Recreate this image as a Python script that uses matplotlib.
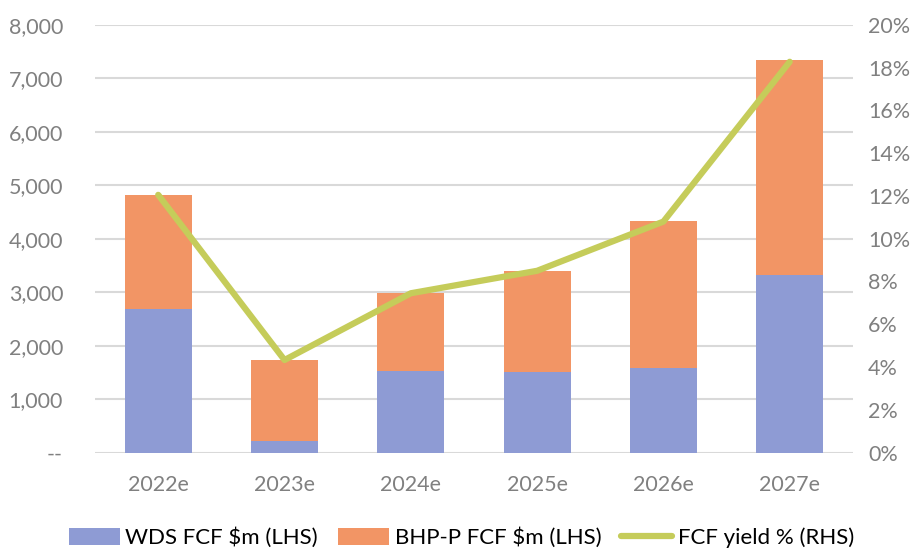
import matplotlib.pyplot as plt
import numpy as np
from matplotlib.ticker import FuncFormatter, MultipleLocator

years = ['2022e', '2023e', '2024e', '2025e', '2026e', '2027e']
wds_fcf = [2680, 225, 1535, 1515, 1590, 3320]
bhp_fcf = [2130, 1510, 1450, 1885, 2750, 4020]
fcf_yield = [12.05, 4.33, 7.45, 8.5, 10.8, 18.27]

plt.rcParams['font.family'] = ['Lato', 'DejaVu Sans']

grey = '#808080'
grid_col = '#d9d9d9'

fig = plt.figure(figsize=(9.23, 5.5), dpi=100)
ax = fig.add_axes([0.103, 0.177, 0.821, 0.778])

x = np.arange(len(years))
ax.bar(x, wds_fcf, width=0.53, color='#8e9bd4', label='WDS FCF $m (LHS)', zorder=2)
ax.bar(x, bhp_fcf, width=0.53, bottom=wds_fcf, color='#f29565',
       label='BHP-P FCF $m (LHS)', zorder=2)

ax.set_xlim(-0.5, len(years) - 0.5)
ax.set_ylim(0, 8000)
ax.yaxis.set_major_locator(MultipleLocator(1000))
ax.yaxis.set_major_formatter(FuncFormatter(lambda v, p: '--' if v == 0 else f'{v:,.0f}'))
ax.grid(axis='y', color=grid_col, linewidth=1.5, zorder=0)
ax.set_axisbelow(True)
ax.set_xticks(x)
ax.set_xticklabels(years)
ax.tick_params(axis='y', length=0, pad=23, labelsize=15.5, labelcolor=grey)
ax.tick_params(axis='x', length=0, pad=16, labelsize=15.5, labelcolor=grey)
for s in ax.spines.values():
    s.set_visible(False)

ax2 = ax.twinx()
ax2.plot(x, fcf_yield, color='#c5cc5a', linewidth=4.5, solid_capstyle='round',
         label='FCF yield % (RHS)', zorder=3)
ax2.set_ylim(0, 20)
ax2.yaxis.set_major_locator(MultipleLocator(2))
ax2.yaxis.set_major_formatter(FuncFormatter(lambda v, p: f'{v:.0f}%'))
ax2.tick_params(axis='y', length=0, pad=11, labelsize=15.5, labelcolor=grey)
for s in ax2.spines.values():
    s.set_visible(False)

h1, l1 = ax.get_legend_handles_labels()
h2, l2 = ax2.get_legend_handles_labels()
fig.legend(h1 + h2, l1 + l2, loc='center', bbox_to_anchor=(0.5, 0.022), ncol=3,
           frameon=False, fontsize=16, handlelength=2.3, handleheight=0.75,
           handletextpad=0.25, columnspacing=0.9)

fig.savefig('out.png', dpi=100)
